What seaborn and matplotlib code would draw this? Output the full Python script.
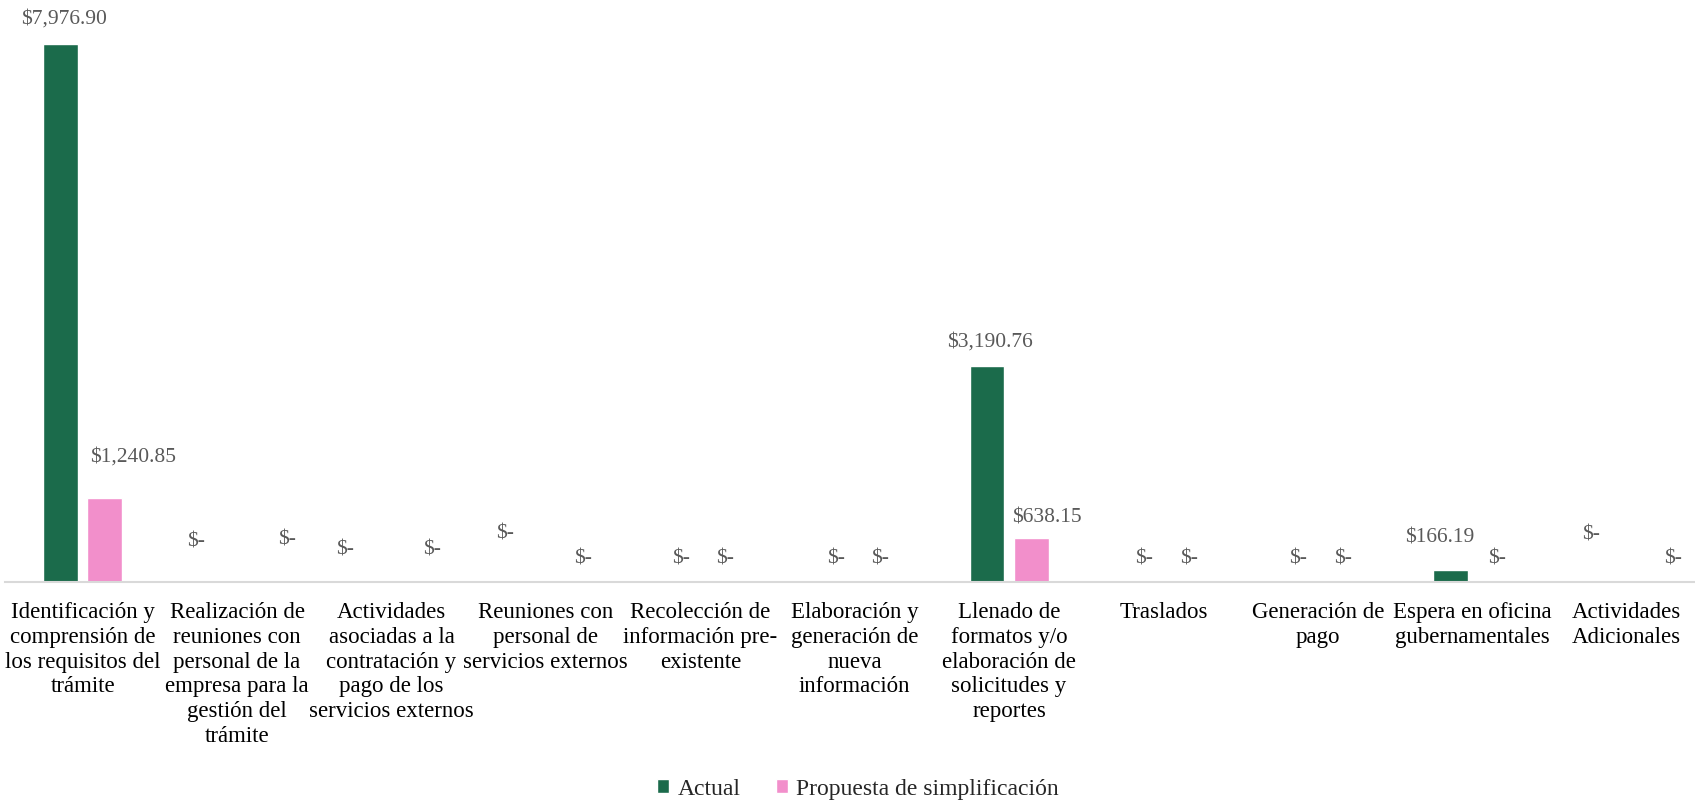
import pandas as pd
import seaborn as sns
import matplotlib.pyplot as plt

categorias = [
    'Identificación y\ncomprensión de\nlos requisitos del\ntrámite',
    'Realización de\nreuniones con\npersonal de la\nempresa para la\ngestión del\ntrámite',
    'Actividades\nasociadas a la\ncontratación y\npago de los\nservicios externos',
    'Reuniones con\npersonal de\nservicios externos',
    'Recolección de\ninformación pre-\nexistente',
    'Elaboración y\ngeneración de\nnueva\ninformación',
    'Llenado de\nformatos y/o\nelaboración de\nsolicitudes y\nreportes',
    'Traslados',
    'Generación de\npago',
    'Espera en oficina\ngubernamentales',
    'Actividades\nAdicionales',
]
actual = [7976.90, 0, 0, 0, 0, 0, 3190.76, 0, 0, 166.19, 0]
propuesta = [1240.85, 0, 0, 0, 0, 0, 638.15, 0, 0, 0, 0]
series = ['Actual', 'Propuesta de simplificación']

# where the data labels sit in the original (pixels from the top centre of each bar)
off_actual = [(3, 25), (-19, 40), (-24, 32), (-19, 48), (3, 23), (3, 23),
              (3, 24), (2, 23), (2, 23), (-11, 32), (-14, 47)]
off_propuesta = [(28, 41), (28, 42), (19, 32), (15, 23), (3, 23), (3, 23),
                 (16, 20), (3, 23), (3, 23), (3, 23), (24, 23)]

df = pd.DataFrame({
    'categoria': categorias * 2,
    'serie': [series[0]] * len(categorias) + [series[1]] * len(categorias),
    'costo': actual + propuesta,
})

sns.set_style('white')
plt.rcParams['font.family'] = ['Liberation Serif', 'DejaVu Serif']
serif = ['Liberation Serif', 'DejaVu Serif']

fig = plt.figure(figsize=(16.95, 8.05), dpi=100)
ax = fig.add_axes([5.4 / 1695, 223.5 / 805, 1698.6 / 1695, 581.5 / 805])

sns.barplot(data=df, x='categoria', y='costo', hue='serie', order=categorias,
            hue_order=series, palette=['#1B6B4B', '#F28FCB'], saturation=1,
            width=0.57, gap=0.21, ax=ax)

ax.set_ylim(0, 8628)
ax.set_xlim(-0.5, len(categorias) - 0.5)

# data labels
for cont, vals, offs in zip(ax.containers, [actual, propuesta], [off_actual, off_propuesta]):
    for bar, v, (dx, dy) in zip(cont, vals, offs):
        txt = f'${v:,.2f}' if v > 0 else '$-'
        ax.annotate(txt, (bar.get_x() + bar.get_width() / 2, bar.get_height()),
                    xytext=(dx, dy), textcoords='offset pixels', family=serif,
                    ha='center', va='center', fontsize=15.5, color='#595959')

for s in ['top', 'left', 'right']:
    ax.spines[s].set_visible(False)
ax.spines['bottom'].set_color('#D9D9D9')
ax.spines['bottom'].set_linewidth(1.5)
ax.set_yticks([])
ax.set_xlabel('')
ax.set_ylabel('')
ax.tick_params(axis='x', length=0, pad=15)
for lbl in ax.get_xticklabels():
    lbl.set_fontsize(16.5)
    lbl.set_family(serif)
    lbl.set_color('black')
    lbl.set_linespacing(1.23)

handles, labels = ax.get_legend_handles_labels()
ax.get_legend().remove()
fig.legend(handles, labels, loc='center', bbox_to_anchor=(858 / 1695, 1 - 789 / 805),
           ncol=2, frameon=False, prop={'family': serif, 'size': 17},
           handlelength=0.5, handleheight=0.5, handletextpad=0.35, columnspacing=1.5)

fig.savefig('out.png', dpi=100)
